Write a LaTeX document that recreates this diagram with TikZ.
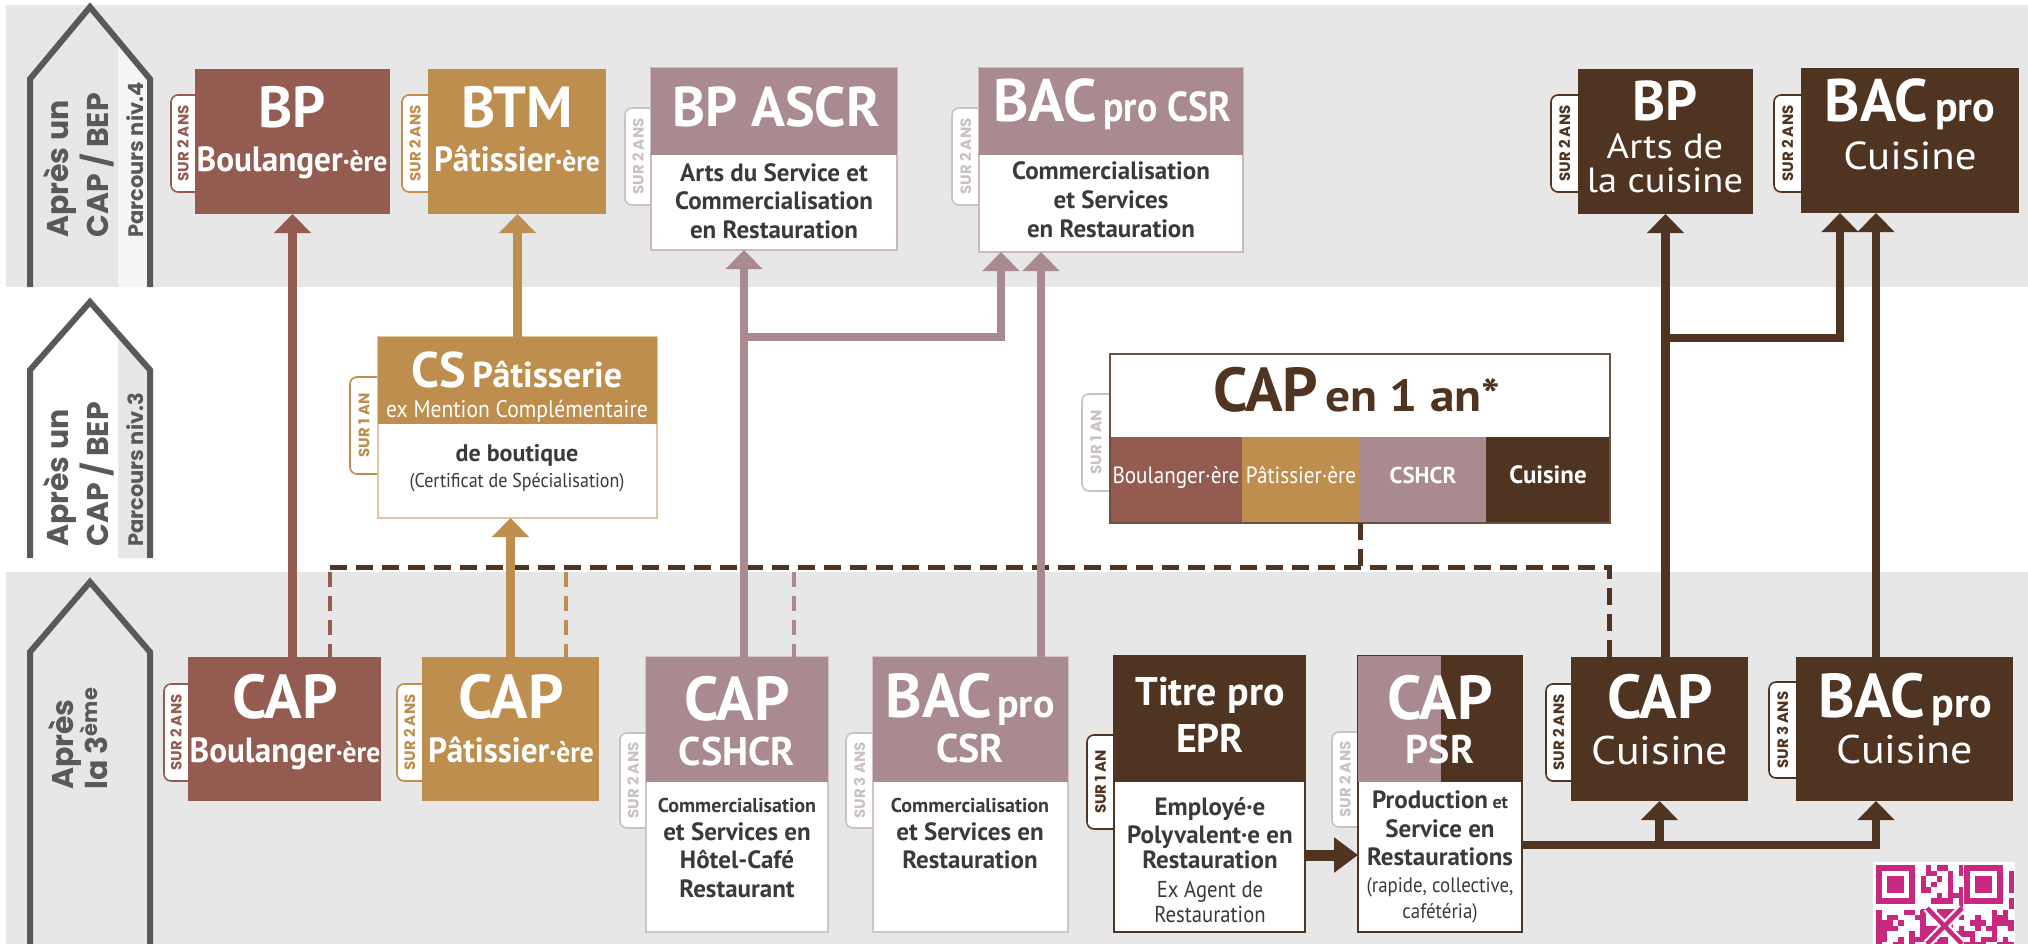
\documentclass[tikz,border=0pt]{standalone}
\usepackage{fontspec}
\setmainfont{PT Sans}
\newfontfamily\cnd[FakeStretch=0.95]{PT Sans}
\newfontfamily\smc[FakeStretch=0.9]{PT Sans}
\newfontfamily\wid[FakeStretch=1.1]{PT Sans}
\newfontfamily\geo{Poppins}
\usetikzlibrary{arrows.meta,calc,fit}
\definecolor{boul}{HTML}{945C50}
\definecolor{pat}{HTML}{BD8E4D}
\definecolor{mauv}{HTML}{A88A90}
\definecolor{dbrn}{HTML}{4E3421}
\definecolor{txt}{HTML}{3A3A3A}
\definecolor{agray}{HTML}{595959}
\definecolor{band}{HTML}{E7E7E7}
\definecolor{ltab}{HTML}{C9C1C3}
\definecolor{qrc}{HTML}{C8287F}
\newcommand\fsz[1]{\fontsize{#1}{#1}\selectfont}
\newcommand\pbox[6]{\node[fit={(#2,#3)(#4,#5)},inner sep=0pt,outer sep=0pt,#6] (#1) {};}
\newcommand\ptab[7]{%
  \node[fit={(#2,#3)(#4,#5)},inner sep=0pt,outer sep=0pt,rounded corners=7pt,fill=white,draw=#6,line width=1.6pt] (#1) {};
  \node[rotate=90,text=#6,font=\geo\bfseries\fsz{15},inner sep=0pt] (#1t) at ($(#2,#3)!0.5!(#4,#5)+(-5,0)$) {#7};}
\begin{document}
\begin{tikzpicture}[x=1pt,y=-1pt,
  hd/.style={text=white,anchor=base,inner sep=0pt},
  bd/.style={text=txt,anchor=base,inner sep=0pt},
  up/.style={line width=8.5pt,-{Triangle[width=36pt,length=19pt]}},
  dsh/.style={line width=5pt,dash pattern=on 17pt off 9pt,dbrn},
  dshc/.style={line width=3.5pt,dash pattern=on 15pt off 9pt},
  pent/.style={draw=agray,line width=6pt,line join=miter},
  side/.style={rotate=90,anchor=base west,text=agray,inner sep=0pt}]
\useasboundingbox (0,0) rectangle (2028,944);
\fill[white] (0,0) rectangle (2028,944);
\fill[band] (6,5) rectangle (2028,287);
\fill[band] (6,572) rectangle (2028,944);
% ---- side arrows
\fill[white!96!black] (118,287) -- (118,41) -- (150,79) -- (150,287) -- cycle;
\draw[pent] (30,287) -- (30,79) -- (90,7) -- (150,79) -- (150,287);
\fill[band] (118,558) -- (118,334) -- (150,370) -- (150,558) -- cycle;
\draw[pent] (30,558) -- (30,370) -- (90,302) -- (150,370) -- (150,558);
\draw[pent] (30,944) -- (30,652) -- (90,582) -- (150,652) -- (150,944);
\node[side,font=\geo\bfseries\fsz{30}] (s1a) at (68,238) {Après un};
\node[side,font=\geo\bfseries\fsz{30}] (s1b) at (108,238) {CAP / BEP};
\node[side,font=\geo\bfseries\fsz{21}] (s1c) at (143,238) {Parcours niv.4};
\node[side,font=\geo\bfseries\fsz{30}] (s2a) at (68,547) {Après un};
\node[side,font=\geo\bfseries\fsz{30}] (s2b) at (108,547) {CAP / BEP};
\node[side,font=\geo\bfseries\fsz{21}] (s2c) at (143,547) {Parcours niv.3};
\node[side,font=\geo\bfseries\fsz{30}] (s3a) at (73,790) {Après};
\node[side,font=\geo\bfseries\fsz{30}] (s3b) at (107,790) {la 3\textsuperscript{ème}};
% ---- boxes, top row
\ptab{tA}{171}{95}{205}{192}{boul}{SUR 2 ANS}
\pbox{bpb}{195}{69}{390}{214}{fill=boul}
\ptab{tB}{402}{95}{438}{192}{pat}{SUR 2 ANS}
\pbox{btm}{428}{69}{606}{214}{fill=pat}
\ptab{tC}{625}{108}{661}{205}{ltab}{SUR 2 ANS}
\pbox{ascr}{651}{68}{897}{250}{fill=white,draw=mauv!60,line width=1.5pt}
\pbox{ascrh}{651}{68}{897}{155}{fill=mauv}
\ptab{tD}{952}{108}{989}{205}{ltab}{SUR 2 ANS}
\pbox{csr}{979}{68}{1243}{252}{fill=white,draw=mauv!60,line width=1.5pt}
\pbox{csrh}{979}{68}{1243}{155}{fill=mauv}
\ptab{tE}{1551}{95}{1588}{192}{dbrn}{SUR 2 ANS}
\pbox{bpa}{1578}{69}{1753}{214}{fill=dbrn}
\ptab{tF}{1774}{95}{1811}{192}{dbrn}{SUR 2 ANS}
\pbox{bac1}{1801}{68}{2019}{213}{fill=dbrn}
% ---- middle row
\ptab{tG}{350}{377}{388}{474}{pat}{SUR 1 AN}
\pbox{cs}{378}{337}{657}{518}{fill=white,draw=pat!50,line width=1.5pt}
\pbox{csh}{378}{337}{657}{424}{fill=pat}
\ptab{tH}{1082}{394}{1120}{491}{ltab}{SUR 1 AN}
\pbox{cap1}{1110}{354}{1610}{523}{fill=white}
\pbox{s1}{1110}{437}{1242}{523}{fill=boul}
\pbox{s2}{1242}{437}{1360}{523}{fill=pat}
\pbox{s3}{1360}{437}{1486}{523}{fill=mauv}
\pbox{s4}{1486}{437}{1610}{523}{fill=dbrn}
\draw[dbrn!85,line width=1.5pt] (cap1.north west) rectangle (cap1.south east);
% ---- bottom row
\ptab{tI}{164}{684}{198}{781}{boul}{SUR 2 ANS}
\pbox{capb}{188}{657}{381}{801}{fill=boul}
\ptab{tJ}{397}{684}{432}{781}{pat}{SUR 2 ANS}
\pbox{capp}{422}{657}{599}{801}{fill=pat}
\ptab{tK}{620}{733}{656}{828}{ltab}{SUR 2 ANS}
\pbox{cshcr}{646}{657}{828}{932}{fill=white,draw=mauv!50,line width=1.5pt}
\pbox{cshcrh}{646}{657}{828}{782}{fill=mauv}
\ptab{tL}{846}{733}{883}{828}{ltab}{SUR 3 ANS}
\pbox{bacb}{873}{657}{1068}{932}{fill=white,draw=mauv!50,line width=1.5pt}
\pbox{bacbh}{873}{657}{1068}{782}{fill=mauv}
\ptab{tM}{1087}{735}{1124}{829}{dbrn}{SUR 1 AN}
\pbox{epr}{1114}{656}{1305}{932}{fill=white,draw=dbrn,line width=1.8pt}
\pbox{eprh}{1114}{656}{1305}{782}{fill=dbrn}
\ptab{tN}{1332}{732}{1368}{827}{ltab}{SUR 2 ANS}
\pbox{psr}{1358}{656}{1522}{932}{fill=white,draw=dbrn,line width=1.8pt}
\pbox{psrh1}{1358}{656}{1441}{782}{fill=mauv}
\pbox{psrh2}{1441}{656}{1522}{782}{fill=dbrn}
\ptab{tO}{1546}{684}{1581}{781}{dbrn}{SUR 2 ANS}
\pbox{capc}{1571}{657}{1748}{801}{fill=dbrn}
\ptab{tP}{1769}{682}{1806}{778}{dbrn}{SUR 3 ANS}
\pbox{bac2}{1796}{657}{2013}{801}{fill=dbrn}
% ---- dashed links
\coordinate (dL) at ($(capb.north west)+(142,-90)$);
\coordinate (cc) at ($(capc.north west)+(38,0)$);
\draw[dsh,line join=miter] (dL) -- (cc |- dL) -- (cc);
\draw[dsh] (s3.south west) -- (s3.south west |- dL);
\draw[dshc,boul] ($(capb.north west)+(142,-85)$) -- ($(capb.north west)+(142,0)$);
\draw[dshc,pat] ($(capp.north west)+(144,-85)$) -- ($(capp.north west)+(144,0)$);
\draw[dshc,mauv] ($(cshcr.north west)+(148,-85)$) -- ($(cshcr.north west)+(148,0)$);
% ---- solid links
\draw[up,boul] (bpb.south |- capb.north) -- (bpb.south);
\draw[up,pat] (capp.north) -- (capp.north |- cs.south);
\draw[up,pat] (cs.north) -- (cs.north |- btm.south);
\coordinate (m1) at ($(cshcr.north west)+(98,0)$);
\draw[up,mauv] (m1) -- (m1 |- ascr.south);
\coordinate (j1) at ($(m1 |- ascr.south)+(0,87)$);
\draw[up,mauv,line join=miter] (j1) -| ($(csr.south west)+(22,0)$);
\draw[up,mauv] ($(bacb.north east)+(-27,0)$) -- ($(csr.south west)+(62,0)$);
\draw[up,dbrn] (bpa.south |- capc.north) -- (bpa.south);
\coordinate (j2) at ($(bpa.south)+(0,124)$);
\draw[up,dbrn,line join=miter] (j2) -| ($(bac1.south west)+(39,0)$);
\draw[up,dbrn] ($(bac2.north west)+(80,0)$) -- ($(bac1.south west)+(75,0)$);
\draw[dbrn,line width=11pt,-{Triangle[width=34pt,length=24pt]}] ($(epr.south east)+(0,-77)$) -- ($(psr.south west)+(0,-77)$);
\coordinate (p1) at ($(psr.south east)+(0,-87)$);
\draw[up,dbrn,line join=miter] (p1) -| ($(bac2.south west)+(80,0)$);
\draw[up,dbrn] (capc.south |- p1) -- (capc.south);
% ---- texts top row
\node[hd,font=\bfseries\fsz{58}] (x1) at (292,128) {BP};
\node[hd,font=\cnd\bfseries\fsz{35}] (x2) at (292,172) {Boulanger{\fsz{29}·ère}};
\node[hd,font=\bfseries\fsz{58}] (x3) at (517,128) {BTM};
\node[hd,font=\cnd\bfseries\fsz{35}] (x4) at (517,172) {Pâtissier{\fsz{29}·ère}};
\node[hd,font=\bfseries\fsz{56}] (x5) at (776,127) {BP ASCR};
\node[bd,font=\bfseries\fsz{25}] (x6) at (774,182) {Arts du Service et};
\node[bd,font=\bfseries\fsz{25}] (x7) at (774,210) {Commercialisation};
\node[bd,font=\bfseries\fsz{25}] (x8) at (774,238) {en Restauration};
\node[hd,font=\bfseries] (x9) at (1112,122) {{\fsz{60}BAC}\hspace{7pt}{\smc\fsz{42}pro CSR}};
\node[bd,font=\bfseries\fsz{25}] (x10) at (1111,180) {Commercialisation};
\node[bd,font=\bfseries\fsz{25}] (x11) at (1111,208) {et Services};
\node[bd,font=\bfseries\fsz{25}] (x12) at (1111,237) {en Restauration};
\node[hd,font=\bfseries\fsz{56}] (x13) at (1665,121) {BP};
\node[hd,font=\wid\fsz{35}] (x14) at (1665,159) {Arts de};
\node[hd,font=\wid\fsz{35}] (x15) at (1665,193) {la cuisine};
\node[hd,font=\bfseries] (x16) at (1910,122) {{\fsz{60}BAC}\hspace{7pt}{\fsz{42}pro}};
\node[hd,font=\wid\fsz{39}] (x17) at (1910,170) {Cuisine};
% ---- texts middle row
\node[hd,font=\bfseries] (x18) at (517,387) {{\fsz{50}CS}\hspace{6pt}{\fsz{36}Pâtisserie}};
\node[hd,font=\smc\fsz{24}] (x19) at (517,417) {ex Mention Complémentaire};
\node[bd,font=\bfseries\fsz{24}] (x20) at (517,461) {de boutique};
\node[bd,font=\smc\fsz{20}] (x21) at (517,487) {(Certificat de Spécialisation)};
\node[anchor=base,inner sep=0pt,text=dbrn,font=\bfseries] (x22) at (1357,411) {{\fsz{62}CAP}\hspace{7pt}{\wid\fsz{45}en 1 an*}};
\node[hd,font=\smc\fsz{23.5}] (x23) at (1176,483) {Boulanger·ère};
\node[hd,font=\smc\fsz{23.5}] (x24) at (1301,483) {Pâtissier·ère};
\node[hd,font=\bfseries\fsz{23}] (x25) at (1423,483) {CSHCR};
\node[hd,font=\bfseries\fsz{25}] (x26) at (1548,483) {Cuisine};
% ---- texts bottom row
\node[hd,font=\bfseries\fsz{62}] (x27) at (285,718) {CAP};
\node[hd,font=\cnd\bfseries\fsz{35}] (x28) at (285,762) {Boulanger{\fsz{29}·ère}};
\node[hd,font=\bfseries\fsz{62}] (x29) at (511,718) {CAP};
\node[hd,font=\cnd\bfseries\fsz{35}] (x30) at (511,762) {Pâtissier{\fsz{29}·ère}};
\node[hd,font=\bfseries\fsz{62}] (x31) at (737,720) {CAP};
\node[hd,font=\bfseries\fsz{40}] (x32) at (737,765) {CSHCR};
\node[bd,font=\bfseries\fsz{20}] (x33) at (737,812) {Commercialisation};
\node[bd,font=\bfseries\fsz{25}] (x34) at (737,840) {et Services en};
\node[bd,font=\bfseries\fsz{25}] (x35) at (737,868) {Hôtel-Café};
\node[bd,font=\bfseries\fsz{25}] (x36) at (737,897) {Restaurant};
\node[hd,font=\bfseries] (x37) at (970,717) {{\fsz{62}BAC}\hspace{5pt}{\fsz{40}pro}};
\node[hd,font=\bfseries\fsz{40}] (x38) at (970,762) {CSR};
\node[bd,font=\bfseries\fsz{20}] (x39) at (970,812) {Commercialisation};
\node[bd,font=\bfseries\fsz{25}] (x40) at (970,840) {et Services en};
\node[bd,font=\bfseries\fsz{25}] (x41) at (970,868) {Restauration};
\node[hd,font=\bfseries\fsz{40}] (x42) at (1210,705) {Titre pro};
\node[hd,font=\bfseries\fsz{40}] (x43) at (1210,752) {EPR};
\node[bd,font=\bfseries\fsz{25}] (x44) at (1210,815) {Employé·e};
\node[bd,font=\bfseries\fsz{25}] (x45) at (1210,843) {Polyvalent·e en};
\node[bd,font=\bfseries\fsz{25}] (x46) at (1210,868) {Restauration};
\node[bd,font=\smc\fsz{23}] (x47) at (1210,897) {Ex Agent de};
\node[bd,font=\smc\fsz{23}] (x48) at (1210,922) {Restauration};
\node[hd,font=\bfseries\fsz{62}] (x49) at (1440,719) {CAP};
\node[hd,font=\bfseries\fsz{40}] (x50) at (1440,763) {PSR};
\node[bd,font=\bfseries\fsz{25}] (x51) at (1440,808) {Production{\fsz{18} et}};
\node[bd,font=\bfseries\fsz{25}] (x52) at (1440,837) {Service en};
\node[bd,font=\bfseries\fsz{25}] (x53) at (1440,865) {Restaurations};
\node[bd,font=\smc\fsz{21}] (x54) at (1440,892) {(rapide, collective,};
\node[bd,font=\smc\fsz{21}] (x55) at (1440,918) {cafétéria)};
\node[hd,font=\bfseries\fsz{62}] (x56) at (1660,718) {CAP};
\node[hd,font=\wid\fsz{40}] (x57) at (1660,764) {Cuisine};
\node[hd,font=\bfseries] (x58) at (1905,717) {{\fsz{62}BAC}\hspace{7pt}{\fsz{42}pro}};
\node[hd,font=\wid\fsz{40}] (x59) at (1905,763) {Cuisine};
% ---- QR code
\fill[white] (1873,862) rectangle (2015,944);
\pgfmathsetseed{4242}
\foreach \i in {0,...,24}{\foreach \j in {0,...,14}{%
  \pgfmathsetmacro\r{rnd}
  \ifdim\r pt<0.48pt \fill[qrc] (1876+\i*5.5,865+\j*5.5) rectangle ++(5.5,5.5);\fi}}
\foreach \a in {1876,1964}{
  \fill[white] (\a-1,864) rectangle ++(46,46);
  \fill[qrc] (\a,865) rectangle ++(38.5,38.5);
  \fill[white] (\a+5.5,870.5) rectangle ++(27.5,27.5);
  \fill[qrc] (\a+11,876) rectangle ++(16.5,16.5);}
\draw[white,line width=9pt] (1927,908) -- (1962,944) (1962,908) -- (1927,944);
\draw[qrc,line width=4.5pt] (1927,908) -- (1962,944) (1962,908) -- (1927,944);
\end{tikzpicture}
\end{document}
